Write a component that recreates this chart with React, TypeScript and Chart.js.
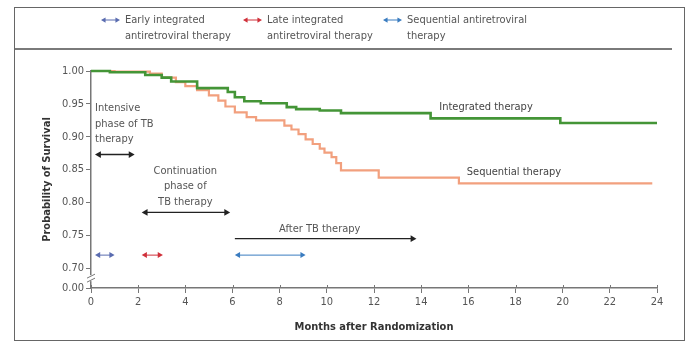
import { useEffect, useRef } from "react";
import { Chart, registerables } from "chart.js";

Chart.register(...registerables);

// Kaplan–Meier estimates: month of each drop and survival after it
const integratedMonths = [0, 0.8, 2.3, 3.0, 3.4, 4.5, 5.8, 6.1, 6.5, 7.2, 8.3, 8.7, 9.7, 10.6, 14.4, 19.9, 24];
const integratedSurvival = [1.0, 0.998, 0.994, 0.99, 0.984, 0.974, 0.968, 0.96, 0.954, 0.951, 0.945, 0.942, 0.94, 0.936, 0.928, 0.921, 0.921];

const sequentialMonths = [0, 1.0, 2.5, 3.0, 3.6, 4.0, 4.5, 5.0, 5.4, 5.7, 6.1, 6.6, 7.0, 8.2, 8.5, 8.8, 9.1, 9.4, 9.7, 9.9, 10.2, 10.4, 10.6, 12.2, 15.6, 23.8];
const sequentialSurvival = [1.0, 0.999, 0.996, 0.99, 0.983, 0.977, 0.971, 0.963, 0.955, 0.946, 0.937, 0.93, 0.925, 0.917, 0.911, 0.904, 0.896, 0.889, 0.882, 0.876, 0.869, 0.86, 0.849, 0.838, 0.829, 0.829];

const xTickValues = [0, 2, 4, 6, 8, 10, 12, 14, 16, 18, 20, 22, 24];
// the lowest tick stands for 0.00 below the axis break
const yTickValues = [0.67, 0.7, 0.75, 0.8, 0.85, 0.9, 0.95, 1.0];
const yTickLabels = ["0.00", "0.70", "0.75", "0.80", "0.85", "0.90", "0.95", "1.00"];

const seriesNames = ["Integrated therapy", "Sequential therapy"];
const legendNames = [
  ["Early integrated", "antiretroviral therapy"],
  ["Late integrated", "antiretroviral therapy"],
  ["Sequential antiretroviral", "therapy"],
];

// treatment-period spans in months
const intensiveSpan = [0.17, 1.85];
const continuationSpan = [2.15, 5.9];
const afterTbSpan = [6.1, 13.8];
const earlyArtSpan = [0.17, 1.0];
const lateArtSpan = [2.15, 3.05];
const sequentialArtSpan = [6.1, 9.1];

const FONT = '"Liberation Sans Narrow", "DejaVu Sans Condensed", "Open Sans", sans-serif';
const GREEN = "#449537";
const SALMON = "#f2a07e";
const EARLY = "#5a6cb0";
const LATE = "#d0303a";
const SEQ = "#3a7cc0";

function arrow(
  ctx: CanvasRenderingContext2D,
  x1: number,
  x2: number,
  y: number,
  color: string,
  startHead: boolean,
  endHead: boolean,
  head = 5,
  width = 1.2
) {
  ctx.save();
  ctx.strokeStyle = color;
  ctx.fillStyle = color;
  ctx.lineWidth = width;
  ctx.beginPath();
  ctx.moveTo(x1 + (startHead ? head * 0.8 : 0), y);
  ctx.lineTo(x2 - (endHead ? head * 0.8 : 0), y);
  ctx.stroke();
  const tri = (tip: number, dir: number) => {
    ctx.beginPath();
    ctx.moveTo(tip, y);
    ctx.lineTo(tip - dir * head * 1.3, y - head * 0.75);
    ctx.lineTo(tip - dir * head * 1.3, y + head * 0.75);
    ctx.closePath();
    ctx.fill();
  };
  if (startHead) tri(x1, -1);
  if (endHead) tri(x2, 1);
  ctx.restore();
}

const decorPlugin = {
  id: "decor",
  afterDraw(chart: any) {
    const ctx: CanvasRenderingContext2D = chart.ctx;
    const xs = chart.scales.x;
    const ys = chart.scales.y;
    const px = (m: number) => xs.getPixelForValue(m);
    const py = (v: number) => ys.getPixelForValue(v);

    ctx.save();
    // outer frame and rule under the key
    ctx.strokeStyle = "#666";
    ctx.lineWidth = 1;
    ctx.strokeRect(14.5, 7.5, 670, 333);
    ctx.strokeStyle = "#7a7a7a";
    ctx.lineWidth = 2;
    ctx.beginPath();
    ctx.moveTo(15, 49);
    ctx.lineTo(672, 49);
    ctx.stroke();

    // key
    ctx.font = `11px ${FONT}`;
    ctx.fillStyle = "#555";
    ctx.textBaseline = "middle";
    ctx.textAlign = "left";
    const keyItems = [
      { x: 101, color: EARLY },
      { x: 243, color: LATE },
      { x: 383, color: SEQ },
    ];
    keyItems.forEach((k, i) => {
      arrow(ctx, k.x, k.x + 19, 20, k.color, true, true, 3.5, 1);
      ctx.fillStyle = "#555";
      ctx.fillText(legendNames[i][0], k.x + 24, 20);
      ctx.fillText(legendNames[i][1], k.x + 24, 36);
    });

    // upward halves of x ticks
    ctx.strokeStyle = "#777";
    ctx.lineWidth = 1;
    xTickValues.forEach((v) => {
      const x = Math.round(px(v)) + 0.5;
      ctx.beginPath();
      ctx.moveTo(x, ys.bottom);
      ctx.lineTo(x, ys.bottom - 3);
      ctx.stroke();
    });

    // axis break marks
    const bx = xs.left;
    const by = (py(0.7) + py(0.67)) / 2;
    ctx.fillStyle = "#fff";
    ctx.fillRect(bx - 3, by - 3, 6, 6);
    ctx.strokeStyle = "#777";
    ctx.lineWidth = 1;
    [-2, 2].forEach((d) => {
      ctx.beginPath();
      ctx.moveTo(bx - 4, by + d + 2);
      ctx.lineTo(bx + 4, by + d - 2);
      ctx.stroke();
    });

    // period annotations
    ctx.fillStyle = "#555";
    ctx.font = `11px ${FONT}`;
    ctx.textAlign = "left";
    ctx.fillText("Intensive", px(0.17), 108);
    ctx.fillText("phase of TB", px(0.17), 124);
    ctx.fillText("therapy", px(0.17), 139);
    arrow(ctx, px(intensiveSpan[0]), px(intensiveSpan[1]), py(0.873), "#222", true, true, 4.5, 1.3);

    ctx.textAlign = "center";
    const cx = px(4.0);
    ctx.fillText("Continuation", cx, 171);
    ctx.fillText("phase of", cx, 186);
    ctx.fillText("TB therapy", cx, 202);
    arrow(ctx, px(continuationSpan[0]), px(continuationSpan[1]), py(0.785), "#222", true, true, 4.5, 1.3);

    ctx.fillText("After TB therapy", px(9.7), 229);
    arrow(ctx, px(afterTbSpan[0]), px(afterTbSpan[1]), py(0.745), "#222", false, true, 4.5, 1.3);

    arrow(ctx, px(earlyArtSpan[0]), px(earlyArtSpan[1]), py(0.72), EARLY, true, true, 4, 1);
    arrow(ctx, px(lateArtSpan[0]), px(lateArtSpan[1]), py(0.72), LATE, true, true, 4, 1);
    arrow(ctx, px(sequentialArtSpan[0]), px(sequentialArtSpan[1]), py(0.72), SEQ, true, true, 4, 1);

    // curve labels
    ctx.fillStyle = "#444";
    ctx.fillText(seriesNames[0], 486, 107);
    ctx.fillText(seriesNames[1], 514, 172);

    // axis titles
    ctx.font = `bold 11px ${FONT}`;
    ctx.fillStyle = "#333";
    ctx.fillText("Months after Randomization", (xs.left + xs.right) / 2, 327);
    ctx.save();
    ctx.translate(47, (py(1.0) + py(0.67)) / 2);
    ctx.rotate(-Math.PI / 2);
    ctx.fillText("Probability of Survival", 0, 0);
    ctx.restore();

    ctx.restore();
  },
};

export default function App() {
  const canvasRef = useRef<HTMLCanvasElement | null>(null);

  useEffect(() => {
    if (!canvasRef.current) return;
    const chart = new Chart(canvasRef.current, {
      type: "line",
      data: {
        datasets: [
          {
            label: seriesNames[0],
            data: integratedMonths.map((m, i) => ({ x: m, y: integratedSurvival[i] })),
            borderColor: GREEN,
            borderWidth: 2.6,
            stepped: "before",
            pointRadius: 0,
            fill: false,
            clip: false,
          },
          {
            label: seriesNames[1],
            data: sequentialMonths.map((m, i) => ({ x: m, y: sequentialSurvival[i] })),
            borderColor: SALMON,
            borderWidth: 2.2,
            stepped: "before",
            pointRadius: 0,
            fill: false,
            clip: false,
          },
        ],
      },
      options: {
        responsive: false,
        animation: false,
        events: [],
        layout: { padding: { top: 71, right: 34, left: 0, bottom: 0 } },
        plugins: {
          legend: { display: false },
          tooltip: { enabled: false },
          title: { display: false },
        },
        scales: {
          x: {
            type: "linear",
            min: 0,
            max: 24,
            afterBuildTicks: (scale: any) => {
              scale.ticks = xTickValues.map((v) => ({ value: v }));
            },
            afterFit: (scale: any) => {
              scale.height = 55;
            },
            grid: { drawOnChartArea: false, tickLength: 5, color: "#777" },
            border: { color: "#777", width: 1.5 },
            ticks: {
              padding: 3,
              color: "#555",
              font: { family: FONT, size: 11 },
              maxRotation: 0,
              callback: (v: any) => String(v),
            },
          },
          y: {
            type: "linear",
            min: 0.67,
            max: 1.0,
            afterBuildTicks: (scale: any) => {
              scale.ticks = yTickValues.map((v) => ({ value: v }));
            },
            afterFit: (scale: any) => {
              scale.width = 91;
            },
            grid: { drawOnChartArea: false, tickLength: 5, color: "#777" },
            border: { color: "#777", width: 1.5 },
            ticks: {
              padding: 2,
              color: "#555",
              font: { family: FONT, size: 11 },
              callback: (v: any) => {
                const i = yTickValues.findIndex((t) => Math.abs(t - Number(v)) < 1e-6);
                return i >= 0 ? yTickLabels[i] : "";
              },
            },
          },
        },
      },
      plugins: [decorPlugin],
    });
    return () => chart.destroy();
  }, []);

  return (
    <div style={{ position: "absolute", left: 0, top: 0, width: 691, height: 343, background: "#fff" }}>
      <canvas ref={canvasRef} width={691} height={343} />
    </div>
  );
}
